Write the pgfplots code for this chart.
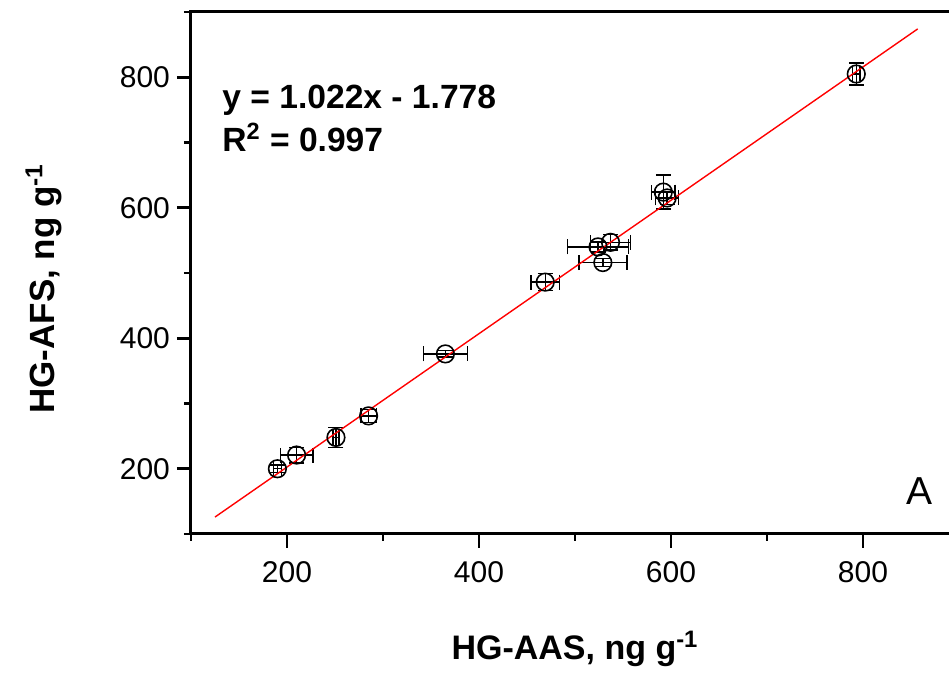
\documentclass[border=0pt]{standalone}
\usepackage{fontspec}
\setmainfont{Liberation Sans}
\usepackage{pgfplots}
\usepackage{pgfplotstable}
\pgfplotsset{compat=1.18}

% x y x-error y-error (ng/g)
\pgfplotstableread{
x     y     ex  ey
190   200   4   6
210   221   17  12
251   248   3   15
285   281   8   10
365   376   23  5
469   486   15  13
524   540   32  8
537   547   21  12
529   516   25  6
592   624   12  26
596   615   12  10
793   805   4   17
}\afsdata

% fitted line y = 1.022x - 1.778
\pgfplotstableread{
x     y
125   125.97
857   874.08
}\fitline

\begin{document}
\begin{tikzpicture}
\begin{axis}[
    at={(0,0)}, anchor=south west,
    scale only axis,
    width=384pt, height=261pt,
    xmin=100, xmax=900, ymin=100, ymax=900,
    xtick={200,400,600,800}, ytick={200,400,600,800},
    minor xtick={100,300,500,700,900},
    minor ytick={100,300,500,700,900},
    tick align=outside,
    xtick pos=left, ytick pos=left,
    major tick length=7pt, minor tick length=3.5pt,
    every tick/.style={black, line width=1.4pt},
    axis line style={line width=1.5pt},
    tick label style={font=\fontsize{15}{17}\selectfont},
    xticklabel style={yshift=-3pt},
    /pgf/number format/assume math mode=true,
    xlabel={\textbf{HG-AAS, ng g\textsuperscript{-1}}},
    ylabel={\textbf{HG-AFS, ng g\textsuperscript{-1}}},
    every axis x label/.style={at={(axis description cs:0.5,0)}, anchor=base,
        yshift=-63pt, font=\fontsize{17}{19}\selectfont},
    every axis y label/.style={at={(axis description cs:0,0.47)}, anchor=base,
        xshift=-68pt, rotate=90, font=\fontsize{17.5}{19}\selectfont},
]
\addplot[only marks, mark=o, black, mark size=4.4pt,
    mark options={line width=0.8pt},
    error bars/.cd, x dir=both, x explicit, y dir=both, y explicit,
    error bar style={line width=0.7pt, black},
    error mark options={rotate=90, mark size=3.75pt, line width=0.7pt}]
    table[x=x, y=y, x error=ex, y error=ey] {\afsdata};
\addplot[red, line width=0.7pt] table[x=x, y=y] {\fitline};

\node[anchor=base west, inner sep=0pt, font=\bfseries\fontsize{16.8}{18}\selectfont]
    at (axis description cs:0.0404,0.816) {y = 1.022x - 1.778};
\node[anchor=base west, inner sep=0pt, font=\bfseries\fontsize{16.8}{18}\selectfont]
    at (axis description cs:0.0404,0.732) {R\textsuperscript{2} = 0.997};
\node[anchor=base, inner sep=0pt, font=\fontsize{19.5}{21}\selectfont]
    at (axis description cs:0.949,0.0556) {A};
\end{axis}
\pgfresetboundingbox
\useasboundingbox (-95.5pt,-69.5pt) rectangle (379pt,267pt);
\end{tikzpicture}
\end{document}
